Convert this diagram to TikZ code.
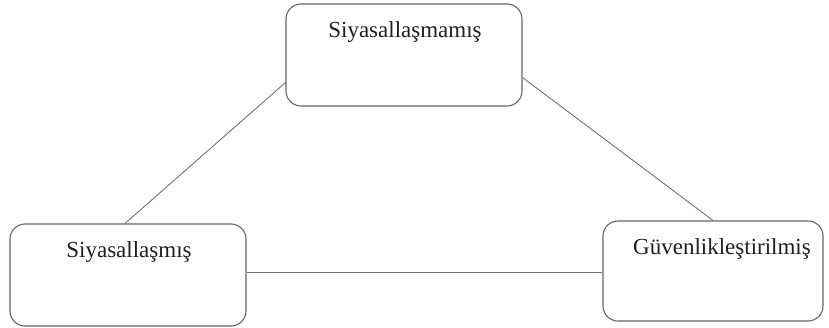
\documentclass[tikz,border=0pt]{standalone}
\usepackage{fontspec}
\setmainfont{Liberation Serif}
\begin{document}
\begin{tikzpicture}[x=1pt,y=-1pt,
  box/.style={draw=black!60, line width=1.1pt, rounded corners=15pt, minimum width=#1, inner sep=0pt},
  lbl/.style={font=\fontsize{23}{26}\selectfont, text=black!88, inner sep=0pt},
  conn/.style={draw=black!55, line width=0.9pt}]
\useasboundingbox (0,0) rectangle (829,327);
\node[box=236pt, minimum height=102pt] (top) at (404,55) {};
\node[box=236pt, minimum height=102pt] (left) at (128,275) {};
\node[box=220pt, minimum height=100pt] (right) at (713,271) {};
\node[lbl] (ttop) at (405,32) {Siyasallaşmamış};
\node[lbl] (tleft) at (129,252) {Siyasallaşmış};
\node[lbl] (tright) at (722,249) {Güvenlikleştirilmiş};
\draw[conn] ([yshift=24pt]top.south west) -- ([xshift=-3pt]left.north);
\draw[conn] ([yshift=29pt]top.south east) -- (right.north);
\draw[conn] ([yshift=3pt]left.east) -- ([yshift=-1pt]right.west);
\end{tikzpicture}
\end{document}
